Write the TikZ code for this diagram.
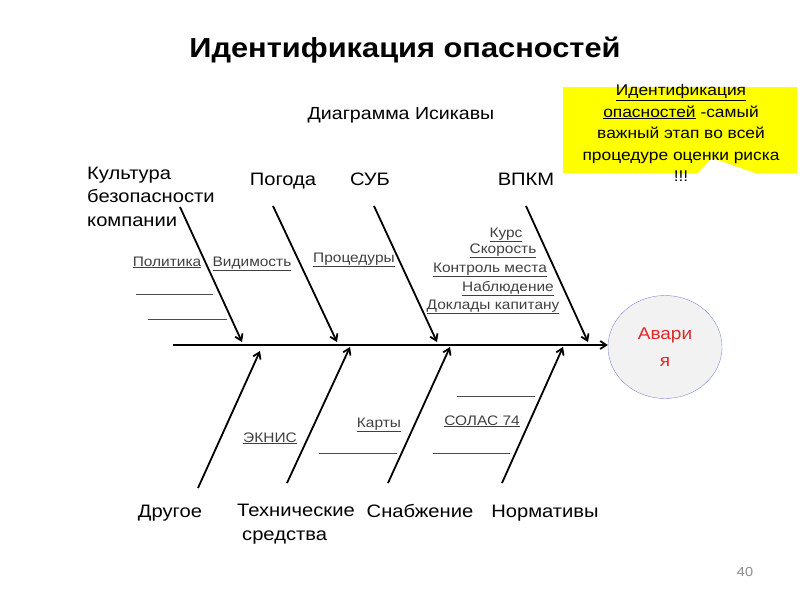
\documentclass[tikz,border=0pt]{standalone}
\usepackage{fontspec}
\setmainfont{Liberation Sans}[FakeStretch=1.12]
\usetikzlibrary{arrows.meta,shapes.geometric}
\definecolor{notecolor}{RGB}{255,255,0}
\definecolor{ringcolor}{RGB}{130,140,210}
\definecolor{redtext}{RGB}{225,40,40}
\begin{document}
\begin{tikzpicture}[x=1pt, y=-1pt,
    bone/.style={line width=1.8pt, -{Straight Barb[length=6pt,width=8pt]}},
    cat/.style={font=\fontsize{18}{23.5}\selectfont, inner sep=0pt},
    sub/.style={font=\fontsize{13.8}{15}\selectfont, text=black!75, inner sep=0pt, anchor=base},
    blank/.style={line width=0.6pt, black!70}]
    \useasboundingbox (0, 0) rectangle (800, 600);

    \node[font=\bfseries\fontsize{27.5}{32}\selectfont] (title) at (405, 50) {Идентификация опасностей};
    \node[font=\fontsize{17.5}{20}\selectfont] (diagram) at (401, 115) {Диаграмма Исикавы};

    % callout
    \fill[notecolor] (563, 87) -- (797, 87) -- (797, 173) -- (755, 173) -- (712, 158)
        -- (698, 173) -- (563, 173) -- cycle;
    \node[align=center, font=\fontsize{15.5}{21.5}\selectfont, inner sep=0pt] (note) at (681, 133)
        {\underline{Идентификация}\\\underline{опасностей} -самый\\важный этап во всей\\процедуре оценки риска\\!!!};

    % effect
    \node[ellipse, draw=ringcolor, fill=black!5, minimum width=114, minimum height=103,
        align=center, text=redtext, font=\fontsize{17}{27}\selectfont] (avaria) at (665, 347) {Авари\\я};

    % spine and bones
    \coordinate (tail) at (173, 345);
    \draw[bone] (tail) -- (avaria.west |- tail);

    \coordinate (kultura s) at (180, 207);  \coordinate (kultura e) at (242, 342);
    \coordinate (pogoda s) at (273, 206);   \coordinate (pogoda e) at (337, 342);
    \coordinate (sub s) at (374, 206);      \coordinate (sub e) at (437, 342);
    \coordinate (vpkm s) at (526, 206);     \coordinate (vpkm e) at (588, 342);
    \coordinate (drugoe s) at (198, 488);   \coordinate (drugoe e) at (260, 351);
    \coordinate (tehn s) at (287, 483);     \coordinate (tehn e) at (350, 347);
    \coordinate (snab s) at (388, 483);     \coordinate (snab e) at (450, 347);
    \coordinate (norm s) at (502, 483);     \coordinate (norm e) at (563, 347);

    \draw[bone] (kultura s) -- (kultura e);
    \draw[bone] (pogoda s) -- (pogoda e);
    \draw[bone] (sub s) -- (sub e);
    \draw[bone] (vpkm s) -- (vpkm e);
    \draw[bone] (drugoe s) -- (drugoe e);
    \draw[bone] (tehn s) -- (tehn e);
    \draw[bone] (snab s) -- (snab e);
    \draw[bone] (norm s) -- (norm e);

    % categories
    \node[cat, align=left, anchor=north west] (kultura) at (87, 166.5) {Культура\\безопасности\\компании};
    \node[cat, anchor=base] (pogoda) at (283, 185) {Погода};
    \node[cat, anchor=base] (sub) at (370, 185) {СУБ};
    \node[cat, anchor=base] (vpkm) at (526, 185) {ВПКМ};
    \node[cat, anchor=base] (drugoe) at (170, 517) {Другое};
    \node[cat, align=left, anchor=north west] (tehn) at (237, 504) {Технические\\\hspace{5pt}средства};
    \node[cat, anchor=base] (snab) at (420, 517) {Снабжение};
    \node[cat, anchor=base] (norm) at (545, 517) {Нормативы};

    % causes
    \node[sub] (politika) at (167, 266) {\underline{Политика}};
    \node[sub] (vidimost) at (252, 266) {\underline{Видимость}};
    \node[sub] (procedury) at (354, 262) {\underline{Процедуры}};
    \node[sub] (kurs) at (506, 237) {\underline{Курс}};
    \node[sub] (skorost) at (503, 253) {\underline{Скорость}};
    \node[sub] (kontrol) at (490, 272) {\underline{Контроль места}};
    \node[sub] (nabl) at (508, 291) {\underline{Наблюдение}};
    \node[sub] (doklady) at (493, 309) {\underline{Доклады капитану}};
    \node[sub] (ecdis) at (270, 442) {\underline{ЭКНИС}};
    \node[sub] (karty) at (379, 427) {\underline{Карты}};
    \node[sub] (solas) at (482, 425) {\underline{СОЛАС 74}};

    % empty lines
    \draw[blank] (136, 294) -- (213, 294);
    \draw[blank] (148, 319) -- (227, 319);
    \draw[blank] (457, 396) -- (535, 396);
    \draw[blank] (319, 453) -- (397, 453);
    \draw[blank] (433, 453) -- (510, 453);

    \node[font=\fontsize{13}{14}\selectfont, text=black!45] (page) at (745, 572) {40};
\end{tikzpicture}
\end{document}
